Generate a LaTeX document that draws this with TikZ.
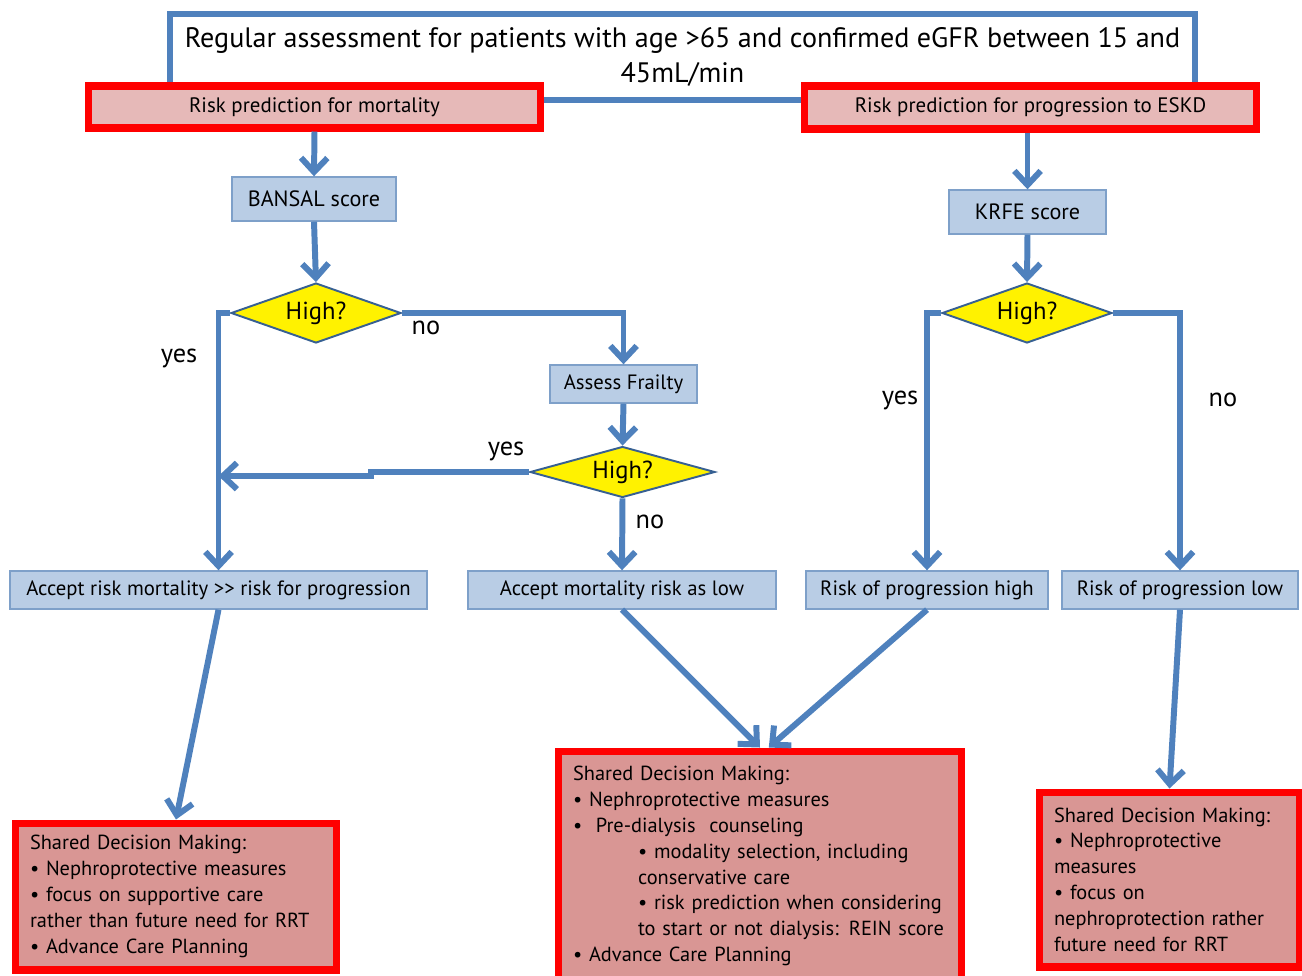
\documentclass[tikz,border=0pt]{standalone}
\usepackage{fontspec}
\setmainfont{PT Sans}
\usetikzlibrary{arrows.meta,positioning,shapes.geometric,calc}
\definecolor{flowblue}{RGB}{79,129,189}
\definecolor{boxfill}{RGB}{185,205,229}
\definecolor{boxedge}{RGB}{126,160,201}
\definecolor{riskfill}{RGB}{230,185,184}
\definecolor{sdmfill}{RGB}{217,150,148}
\definecolor{diaedge}{RGB}{55,96,146}

\begin{document}
\begin{tikzpicture}[x=0.02cm, y=-0.02cm,
	flow/.style={draw=flowblue, line width=3.4pt, -{Straight Barb[length=8pt,width=15pt]}},
	topbox/.style={draw=flowblue, fill=white, line width=3.4pt, align=center, inner sep=0pt,
		font=\fontsize{16}{20}\selectfont},
	riskbox/.style={draw=red, fill=riskfill, line width=4pt, inner sep=0pt,
		font=\fontsize{11.9}{13}\selectfont},
	infobox/.style={draw=boxedge, fill=boxfill, line width=0.8pt, inner sep=0pt,
		font=\fontsize{11.8}{13}\selectfont},
	decision/.style={diamond, aspect=2.8, draw=diaedge, fill=yellow, line width=1.1pt, inner sep=0pt,
		font=\fontsize{14}{16}\selectfont},
	sdm/.style={draw=red, fill=sdmfill, line width=4pt, align=left, inner sep=0pt,
		font=\fontsize{11.6}{14.7}\selectfont},
	tag/.style={font=\fontsize{15}{18}\selectfont}]
	\useasboundingbox (0,0) rectangle (1302,975);

	% top of the chart
	\node[topbox, minimum width=20.5cm, minimum height=1.72cm] (assess) at (682.5,57)
		{Regular assessment for patients with age >65 and confirmed eGFR between 15 and\\45mL/min};
	\node[riskbox, minimum width=9.06cm, minimum height=0.84cm] (riskmort) at (314.5,107) {Risk prediction for mortality};
	\node[riskbox, minimum width=9.06cm, minimum height=0.86cm] (riskprog) at (1030.5,107.5) {Risk prediction for progression to ESKD};

	% scores and questions
	\node[infobox, minimum width=3.28cm, minimum height=0.88cm, font=\fontsize{12.6}{14}\selectfont] (bansal) at (314,199) {BANSAL score};
	\node[infobox, minimum width=3.14cm, minimum height=0.88cm, font=\fontsize{12.6}{14}\selectfont] (krfe) at (1027.5,212) {KRFE score};
	\node[decision, minimum width=3.4cm, minimum height=1.2cm] (highmort) at (316,313) {High?};
	\node[decision, minimum width=3.4cm, minimum height=1.2cm] (highprog) at (1027,313) {High?};
	\node[infobox, minimum width=2.94cm, minimum height=0.76cm] (frailty) at (623.5,384) {Assess Frailty};
	\node[decision, aspect=3.6, minimum width=3.7cm, minimum height=1.02cm] (highfrail) at (622.5,472) {High?};

	% outcomes
	\node[infobox, minimum width=8.34cm, minimum height=0.76cm] (accmort) at (218.5,590) {Accept risk mortality >{}> risk for progression};
	\node[infobox, minimum width=6.16cm, minimum height=0.76cm] (acclow) at (622,590) {Accept mortality risk as low};
	\node[infobox, minimum width=4.84cm, minimum height=0.76cm] (proghigh) at (927,590) {Risk of progression high};
	\node[infobox, minimum width=4.72cm, minimum height=0.76cm] (proglow) at (1180,590) {Risk of progression low};

	% shared decision making
	\node[sdm, minimum width=6.44cm, minimum height=2.94cm, text width=5.84cm] (sdmleft) at (176,896.5)
		{Shared Decision Making:\\
		• Nephroprotective measures\\
		• focus on supportive care\\
		rather than future need for RRT\\
		• Advance Care Planning};
	\node[sdm, minimum width=8.08cm, minimum height=4.6cm, text width=7.48cm] (sdmmid) at (760,866)
		{Shared Decision Making:\\
		• Nephroprotective measures\\
		•\ \ Pre-dialysis\ \ counseling\\
		\hspace*{1.3cm}• modality selection, including\\
		\hspace*{1.3cm}conservative care\\
		\hspace*{1.3cm}• risk prediction when considering\\
		\hspace*{1.3cm}to start or not dialysis: REIN score\\
		• Advance Care Planning};
	\node[sdm, minimum width=5.22cm, minimum height=3.5cm, text width=4.62cm] (sdmright) at (1169.5,879.5)
		{Shared Decision Making:\\
		• Nephroprotective\\
		measures\\
		• focus on\\
		nephroprotection rather\\
		future need for RRT};

	% connectors
	\coordinate (join) at (218.5,476);
	\draw[flow] (riskmort.south) -- (bansal.north);
	\draw[flow] (bansal.south) -- (highmort.north);
	\draw[flow] (highmort.west) -| (accmort.north);
	\draw[flow] (highmort.east) -| (frailty.north);
	\draw[flow] (frailty.south) -- (highfrail.north);
	\draw[flow] (highfrail.west) -- ++(-158,0) -- ++(0,4) -- (join);
	\draw[flow] (highfrail.south) -- (acclow.north);
	\draw[flow] (krfe.north |- riskprog.south) -- (krfe.north);
	\draw[flow] (krfe.south) -- (highprog.north);
	\draw[flow] (highprog.west) -| (proghigh.north);
	\draw[flow] (highprog.east) -| (proglow.north);
	\draw[flow] (accmort.south) -- (sdmleft.north);
	\draw[flow] (acclow.south) -- (sdmmid.north);
	\draw[flow] (proghigh.south) -- ([xshift=5]sdmmid.north);
	\draw[flow] (proglow.south) -- (sdmright.north);

	% branch labels
	\node[tag] (yesmort) at (179,358) {yes};
	\node[tag] (nomort) at (426,328) {no};
	\node[tag] (yesfrail) at (506,451) {yes};
	\node[tag] (nofrail) at (650,522) {no};
	\node[tag] (yesprog) at (900,400) {yes};
	\node[tag] (noprog) at (1223,400) {no};
\end{tikzpicture}
\end{document}
